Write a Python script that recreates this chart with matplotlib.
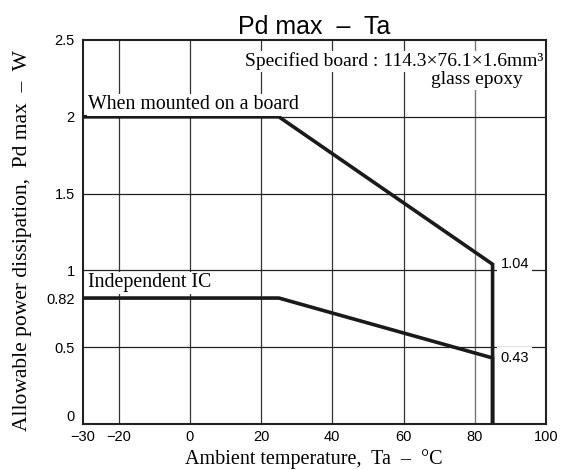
import matplotlib
matplotlib.use("Agg")
import matplotlib.pyplot as plt

board_x = [-30, 25, 85, 85]
board_y = [2.0, 2.0, 1.04, 0.0]
ic_x = [-30, 25, 85, 85]
ic_y = [0.82, 0.82, 0.43, 0.0]
xticks = [-30, -20, 0, 20, 40, 60, 80, 100]
xticklabels = ["\u221230", "\u221220", "0", "20", "40", "60", "80", "100"]
yticks = [0, 0.5, 0.82, 1, 1.5, 2, 2.5]
yticklabels = ["0", "0.5", "0.82", "1", "1.5", "2", "2.5"]

serif = ["Liberation Serif", "DejaVu Serif"]
sans = ["Liberation Sans", "DejaVu Sans"]

fig = plt.figure(figsize=(5.63, 4.70), dpi=100)
ax = fig.add_axes([83 / 563, 1 - 424 / 470, (546 - 83) / 563, (424 - 40) / 470])
ax.set_xlim(-30, 100)
ax.set_ylim(0, 2.5)

for gx in [-20, 0, 20, 40, 60]:
    ax.axvline(gx, color="#333333", lw=0.9, zorder=1)
ax.axvline(80, color="#777777", lw=1.0, zorder=1)
for gy in [0.5, 1, 1.5, 2]:
    ax.axhline(gy, color="#222222", lw=0.9, zorder=1)

ax.plot(board_x, board_y, color="#1a1a1a", lw=2.6, zorder=3, solid_joinstyle="miter")
ax.plot(ic_x, ic_y, color="#1a1a1a", lw=2.6, zorder=3, solid_joinstyle="miter")

ax.set_xticks(xticks)
ax.set_xticklabels(xticklabels, family=sans, fontsize=10.5)
ax.set_yticks(yticks)
ax.set_yticklabels(yticklabels, family=sans, fontsize=10.5)
ax.tick_params(length=0)
ax.tick_params(axis="y", pad=6)
ax.tick_params(axis="x", pad=4)
ax.get_yticklabels()[0].set_va("bottom")
for s in ax.spines.values():
    s.set_linewidth(1.5)
    s.set_color("#222222")

ax.set_title("Pd max  \u2013  Ta", family=sans, fontsize=18, pad=4)
fig.text(314 / 563, 1 - 459 / 470, "Ambient temperature,  Ta  \u2013  \u00b0C", family=serif,
         fontsize=14.5, ha="center", va="center")
fig.text(23 / 563, 1 - 241 / 470, "Allowable power dissipation,  Pd max  \u2013  W", family=serif,
         fontsize=15.5, ha="center", va="center", rotation=90)

bbox = dict(facecolor="white", edgecolor="none", pad=1.0)
ax.text(99.2, 2.36, "Specified board : 114.3\u00d776.1\u00d71.6mm\u00b3", family=serif,
        fontsize=14, ha="right", va="center", bbox=bbox, zorder=4)
ax.text(80.5, 2.24, "glass epoxy", family=serif, fontsize=14, ha="center", va="center",
        bbox=bbox, zorder=4)
ax.text(-28.6, 2.077, "When mounted on a board", family=serif, fontsize=14.3, ha="left",
        va="center", bbox=bbox, zorder=4)
ax.text(-28.6, 0.918, "Independent IC", family=serif, fontsize=14.3, ha="left",
        va="center", bbox=bbox, zorder=4)
ax.text(87.2, 1.04, "1.04", family=sans, fontsize=10.5, ha="left", va="center",
        bbox=dict(facecolor="white", edgecolor="none", pad=2.5), zorder=4)
ax.text(87.2, 0.43, "0.43", family=sans, fontsize=10.5, ha="left", va="center",
        bbox=dict(facecolor="white", edgecolor="none", pad=2.5), zorder=4)

fig.savefig("out.png", dpi=100)
